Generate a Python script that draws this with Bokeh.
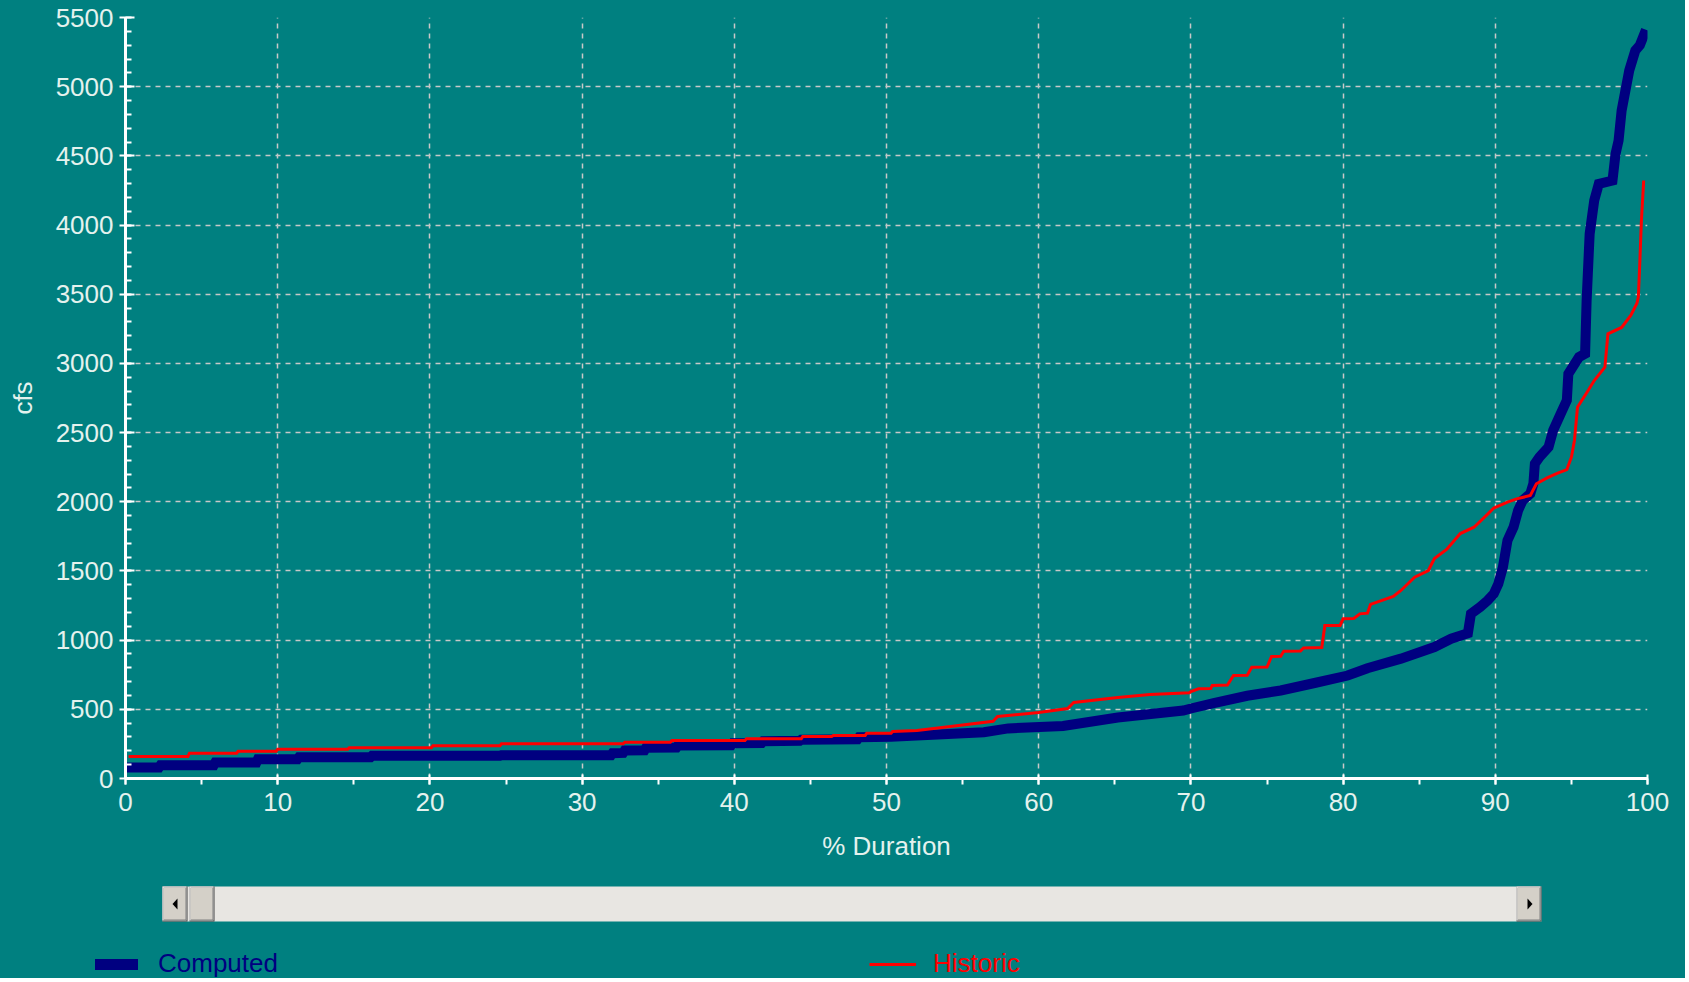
from bokeh.plotting import figure
from bokeh.models import Range1d, SingleIntervalTicker, ColumnDataSource, Legend, LegendItem
from bokeh.embed import file_html
from bokeh.resources import INLINE

# ---------------- data ----------------
computed_x = [0.0, 2.2, 2.3, 5.8, 5.9, 8.6, 8.7, 11.3, 11.4, 16.1, 16.2, 24.6, 24.7, 31.9,
              32.0, 32.7, 32.8, 34.1, 34.2, 36.2, 36.3, 39.8, 39.9, 41.8, 41.9, 44.3, 44.4,
              48.1, 48.2, 50.3, 52.0, 56.4, 58.0, 61.6, 65.2, 69.5, 70.0, 71.5, 73.7, 75.9,
              78.2, 80.3, 81.6, 83.8, 86.0, 87.1, 88.2, 88.4, 89.0, 89.5, 89.9, 90.2, 90.5,
              90.8, 91.2, 91.5, 91.8, 92.3, 92.5, 92.6, 92.9, 93.5, 93.8, 94.3, 94.7, 94.8,
              95.5, 95.9, 96.0, 96.2, 96.5, 96.8, 97.7, 97.9, 98.1, 98.3, 98.8, 99.2, 99.5,
              99.9]
computed_y = [80, 80, 96, 96, 116, 116, 140, 140, 154, 154, 164, 164, 168, 168,
              183, 185, 202, 204, 222, 224, 239, 241, 255, 257, 270, 272, 280,
              284, 298, 302, 310, 335, 362, 380, 441, 491, 506, 545, 598, 636,
              692, 744, 797, 866, 950, 1010, 1050, 1190, 1239, 1287, 1335, 1407, 1528,
              1721, 1817, 1938, 2010, 2058, 2130, 2275, 2323, 2396, 2516, 2637, 2733, 2925,
              3046, 3070, 3455, 3937, 4177, 4298, 4322, 4514, 4611, 4828, 5117, 5262, 5300,
              5411]

historic_x = [0.2, 4.1, 4.2, 7.3, 7.4, 9.9, 10.0, 14.6, 14.7, 20.1, 20.2, 24.6, 24.7, 32.7,
              32.8, 35.8, 35.9, 40.7, 40.8, 44.4, 44.5, 46.4, 46.5, 48.6, 48.7, 50.3, 50.4,
              52.0, 54.2, 57.0, 57.3, 60.0, 61.9, 62.3, 65.2, 67.3, 69.9, 70.0, 70.5, 71.3,
              71.4, 72.4, 72.8, 73.7, 74.0, 75.0, 75.3, 75.9, 76.1, 77.2, 77.4, 78.6, 78.8,
              79.8, 80.0, 80.7, 81.1, 81.6, 81.8, 83.3, 83.8, 84.7, 85.6, 86.0, 86.8, 87.7,
              88.6, 89.5, 89.9, 90.8, 91.4, 92.3, 92.7, 93.4, 94.1, 94.7, 95.0, 95.2, 95.4,
              96.1, 96.5, 97.2, 97.4, 98.3, 98.9, 99.3, 99.4, 99.5, 99.6, 99.75]
historic_y = [159, 159, 183, 183, 197, 197, 212, 212, 222, 222, 236, 236, 251, 251,
              262, 262, 275, 275, 287, 287, 304, 304, 311, 311, 327, 327, 340,
              347, 376, 414, 448, 477, 506, 549, 585, 607, 620, 628, 648, 650,
              672, 675, 744, 746, 804, 806, 882, 884, 920, 922, 944, 947, 1106,
              1106, 1154, 1156, 1190, 1195, 1258, 1316, 1359, 1455, 1503, 1590, 1655, 1770,
              1816, 1911, 1955, 1997, 2021, 2045, 2130, 2173, 2207, 2233, 2322, 2443, 2683,
              2804, 2876, 2973, 3214, 3260, 3347, 3433, 3479, 3744, 4033, 4322]

series_names = ["Computed", "Historic"]
x_label = "% Duration"
y_label = "cfs"

# ---------------- styles ----------------
BG = "#008080"
NAVY = "#000080"
RED = "#ff0000"
TXT = "#e4f2ee"
FONT = "Liberation Sans"
W = 1685

src_c = ColumnDataSource(dict(x=computed_x, y=computed_y))
src_h = ColumnDataSource(dict(x=historic_x, y=historic_y))

p = figure(width=W, height=880, x_range=Range1d(0, 100), y_range=Range1d(0, 5500),
           output_backend="svg", toolbar_location=None,
           background_fill_color=BG, border_fill_color=BG,
           min_border_left=125, min_border_right=38, min_border_top=17, min_border_bottom=102,
           styles={"background-color": BG})
p.outline_line_color = None

p.xaxis.ticker = SingleIntervalTicker(interval=10, num_minor_ticks=2)
p.yaxis.ticker = SingleIntervalTicker(interval=500, num_minor_ticks=5)

for ax in (p.xaxis[0], p.yaxis[0]):
    ax.axis_line_color = "white"
    ax.axis_line_width = 3
    ax.major_tick_line_color = "white"
    ax.major_tick_line_width = 2
    ax.minor_tick_line_color = "white"
    ax.minor_tick_line_width = 2
    ax.major_label_text_color = TXT
    ax.major_label_text_font = FONT
    ax.major_label_text_font_size = "26px"
    ax.axis_label_text_color = TXT
    ax.axis_label_text_font = FONT
    ax.axis_label_text_font_size = "26px"
    ax.axis_label_text_font_style = "normal"

p.xaxis.axis_label = x_label
p.xaxis.major_tick_in = 4
p.xaxis.major_tick_out = 6
p.xaxis.minor_tick_in = 0
p.xaxis.minor_tick_out = 6
p.xaxis.major_label_standoff = 8
p.xaxis.axis_label_standoff = 17

p.yaxis.axis_label = y_label
p.yaxis.major_tick_in = 9
p.yaxis.major_tick_out = 6
p.yaxis.minor_tick_in = 6
p.yaxis.minor_tick_out = 0
p.yaxis.major_label_standoff = 6
p.yaxis.axis_label_standoff = 15

for g in (p.xgrid[0], p.ygrid[0]):
    g.grid_line_color = "#c8c8c8"
    g.grid_line_dash = "5 5"
    g.grid_line_width = 1.5

p.line("x", "y", source=src_c, line_color=NAVY, line_width=10, line_join="miter")
p.line("x", "y", source=src_h, line_color=RED, line_width=3, line_join="miter")

# ---------------- strip below: scrollbar widget look + legend ----------------
# strip units: x = pixels from the left, y = minus pixels from the top (so all series values lie off-strip)
H2 = 98
p2 = figure(width=W, height=H2, x_range=Range1d(0, W), y_range=Range1d(-H2, 0),
            output_backend="svg", toolbar_location=None,
            x_axis_location=None, y_axis_location=None,
            background_fill_color=BG, border_fill_color=BG, min_border=0,
            styles={"background-color": BG})
p2.outline_line_color = None
p2.grid.visible = False

sb_left, sb_right, sb_top, sb_bot, btn = 162, 1541, 6, 41, 25
p2.quad(left=[sb_left], right=[sb_right], top=[-sb_top], bottom=[-sb_bot],
        fill_color="#e8e6e2", line_color=None)

def bevel(x0):
    x1 = x0 + btn
    t, b = sb_top, sb_bot
    p2.quad(left=[x0], right=[x1], top=[-t], bottom=[-b], fill_color="#404040", line_color=None)
    p2.quad(left=[x0], right=[x1 - 1], top=[-t], bottom=[-(b - 1)], fill_color="#ffffff", line_color=None)
    p2.quad(left=[x0 + 1], right=[x1 - 1], top=[-(t + 1)], bottom=[-(b - 1)], fill_color="#808080", line_color=None)
    p2.quad(left=[x0 + 1], right=[x1 - 2], top=[-(t + 1)], bottom=[-(b - 2)], fill_color="#d4d0c8", line_color=None)

bevel(sb_left)
bevel(sb_left + btn + 2)
bevel(sb_right - btn)
p2.patches(xs=[[172, 177, 177], [1532, 1527, 1527]],
           ys=[[-23.5, -18, -29], [-23.5, -18, -29]], fill_color="black", line_color=None)

# legend keys: same series (their values lie outside this strip's ranges, so only the keys show)
rc = p2.line("x", "y", source=src_c, line_color=NAVY, line_width=11, line_cap="round")
rh = p2.line("x", "y", source=src_h, line_color=RED, line_width=3)

leg_c = Legend(items=[LegendItem(label=series_names[0], renderers=[rc])],
               location=(95, -1), glyph_width=43, label_standoff=20,
               label_text_color=NAVY)
leg_h = Legend(items=[LegendItem(label=series_names[1], renderers=[rh])],
               location=(869, -1), glyph_width=47, label_standoff=17,
               label_text_color=RED)
for lg in (leg_c, leg_h):
    lg.label_text_font = FONT
    lg.label_text_font_size = "26px"
    lg.background_fill_alpha = 0
    lg.border_line_color = None
    lg.padding = 0
    lg.margin = 0
    lg.glyph_height = 20
    lg.label_height = 20
    p2.add_layout(lg, "center")

html = file_html([p, p2], INLINE, title="Duration")
html = html.replace("<body>", '<body style="margin:0;background-color:#008080;">', 1)
open("out.html", "w").write(html)
